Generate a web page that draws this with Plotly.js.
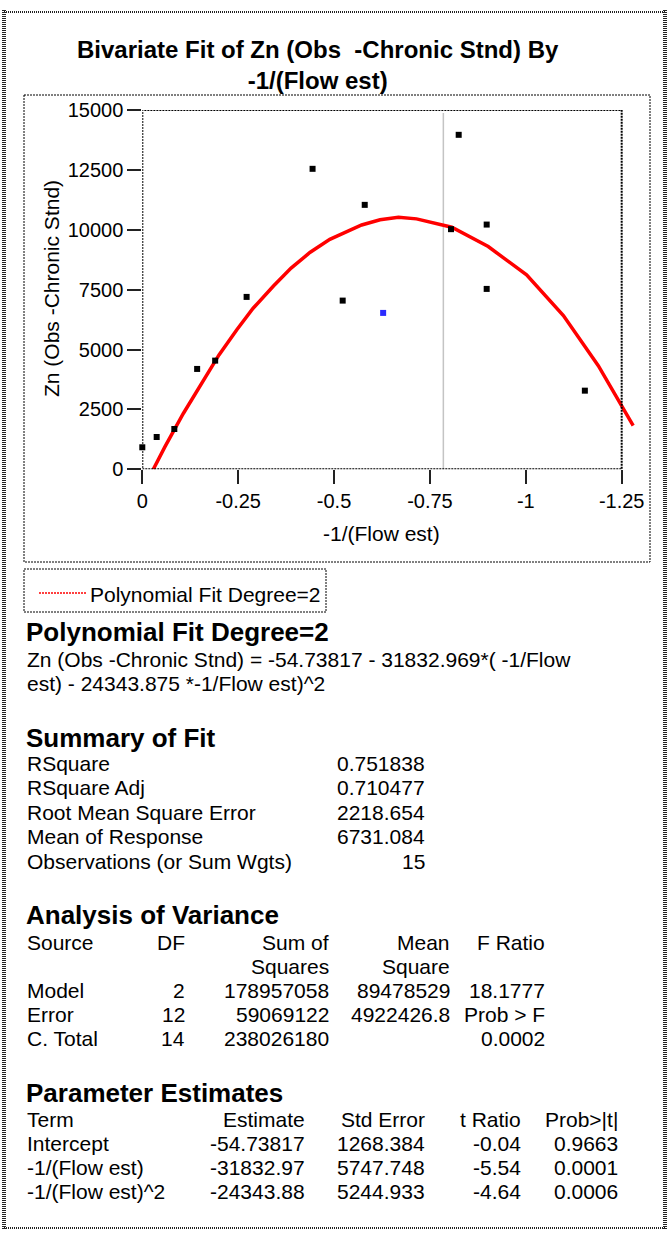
<!DOCTYPE html>
<html>
<head>
<meta charset="utf-8">
<script src="https://cdn.plot.ly/plotly-3.0.1.min.js"></script>
<style>
  html, body { margin: 0; padding: 0; background: #fff; }
  #chart { width: 670px; height: 1236px; }
</style>
</head>
<body>
<div id="chart"></div>
<script>
// ---------------- data ----------------
const obsX = [0, -0.0375, -0.0835, -0.143, -0.190, -0.272, -0.444, -0.5225, -0.580, -0.628, -0.805, -0.825, -0.898, -0.898, -1.154];
const obsY = [919, 1349, 1683, 4190, 4537, 7197, 12544, 7043, 11040, 6529, 10025, 13964, 10217, 7531, 3283];
const obsColor = ['#000000','#000000','#000000','#000000','#000000','#000000','#000000','#000000','#000000','#2b2bff','#000000','#000000','#000000','#000000','#000000'];

const fitX = [-0.0287, -0.0592, -0.107, -0.155, -0.200, -0.246, -0.289, -0.342, -0.388, -0.437, -0.489, -0.572, -0.620, -0.668, -0.715, -0.807, -0.902, -1.002, -1.098, -1.189, -1.280];
const fitY = [0, 944, 2330, 3617, 4774, 5819, 6724, 7650, 8400, 9050, 9600, 10200, 10420, 10526, 10455, 10108, 9298, 8116, 6416, 4327, 1821];

const refLineX = -0.785;

const xTickVals = [0, -0.25, -0.5, -0.75, -1, -1.25];
const xTickText = ['0', '-0.25', '-0.5', '-0.75', '-1', '-1.25'];
const yTickVals = [0, 2500, 5000, 7500, 10000, 12500, 15000];
const yTickText = ['0', '2500', '5000', '7500', '10000', '12500', '15000'];

const titleLines = ['Bivariate Fit of Zn (Obs \u00a0-Chronic Stnd) By', '-1/(Flow est)'];
const xTitle = '-1/(Flow est)';
const yTitle = 'Zn (Obs -Chronic Stnd)';
const legendLabel = 'Polynomial Fit Degree=2';

const fitHeader = 'Polynomial Fit Degree=2';
const fitEquation = ['Zn (Obs -Chronic Stnd) = -54.73817 - 31832.969*( -1/Flow', 'est) - 24343.875 *-1/Flow est)^2'];

const summaryHeader = 'Summary of Fit';
const summaryLabels = ['RSquare', 'RSquare Adj', 'Root Mean Square Error', 'Mean of Response', 'Observations (or Sum Wgts)'];
const summaryValues = ['0.751838', '0.710477', '2218.654', '6731.084', '15'];

const anovaHeader = 'Analysis of Variance';
const anovaColHead1 = ['Source', 'DF', 'Sum of', 'Mean', 'F Ratio'];
const anovaColHead2 = ['', '', 'Squares', 'Square', ''];
const anovaSource = ['Model', 'Error', 'C. Total'];
const anovaDF = ['2', '12', '14'];
const anovaSS = ['178957058', '59069122', '238026180'];
const anovaMS = ['89478529', '4922426.8', ''];
const anovaF = ['18.1777', 'Prob > F', '0.0002'];

const paramHeader = 'Parameter Estimates';
const paramColHead = ['Term', 'Estimate', 'Std Error', 't Ratio', 'Prob>|t|'];
const paramTerm = ['Intercept', '-1/(Flow est)', '-1/(Flow est)^2'];
const paramEst = ['-54.73817', '-31832.97', '-24343.88'];
const paramSE = ['1268.384', '5747.748', '5244.933'];
const paramT = ['-0.04', '-5.54', '-4.64'];
const paramP = ['0.9663', '0.0001', '0.0006'];

// ---------------- layout helpers ----------------
const W = 670, H = 1236;
const FONT = 'Liberation Sans, Arial, Helvetica, sans-serif';
const REG = 21, BOLD = 26;
const px = v => v / W;
const py = v => 1 - v / H;

const annotations = [];
function txt(text, x, y, anchor, size, bold, extra) {
  const a = {
    text: bold ? '<b>' + text + '</b>' : text,
    x: px(x), y: py(y), xref: 'paper', yref: 'paper',
    xanchor: anchor || 'left', yanchor: 'middle',
    showarrow: false,
    font: { family: FONT, size: size || REG, color: '#000' }
  };
  if (extra) Object.assign(a, extra);
  annotations.push(a);
}

// titles (one two-line text)
txt('<b>' + titleLines[0] + '<br>' + titleLines[1] + '</b>', 318, 65, 'center', 24, false, { align: 'center' });
txt(xTitle, 381, 533, 'center', REG, false);
txt(yTitle, 52, 289, 'center', REG, false, { textangle: -90 });

// legend
txt(legendLabel, 88, 594, 'left', REG, false);

// polynomial section
txt(fitHeader, 24, 632, 'left', BOLD, true);
fitEquation.forEach((t, i) => txt(t, 25, 659 + i * 24, 'left', REG, false));

// summary
txt(summaryHeader, 24, 738, 'left', BOLD, true);
summaryLabels.forEach((t, i) => {
  const y = 763 + i * 24.5;
  txt(t, 25, y, 'left', REG, false);
  txt(summaryValues[i], 427, y, 'right', REG, false);
});

// ANOVA
txt(anovaHeader, 24, 915, 'left', BOLD, true);
const anovaRight = [null, 187, 331, 452, 547];
anovaColHead1.forEach((t, j) => {
  if (j === 0) txt(t, 25, 942, 'left'); else txt(t, anovaRight[j], 942, 'right');
});
anovaColHead2.forEach((t, j) => { if (t) txt(t, anovaRight[j], 966, 'right'); });
anovaSource.forEach((s, i) => {
  const y = 990 + i * 24;
  txt(s, 25, y, 'left');
  txt(anovaDF[i], anovaRight[1], y, 'right');
  txt(anovaSS[i], anovaRight[2], y, 'right');
  if (anovaMS[i]) txt(anovaMS[i], anovaRight[3], y, 'right');
  txt(anovaF[i], anovaRight[4], y, 'right');
});

// parameter estimates
txt(paramHeader, 24, 1093, 'left', BOLD, true);
const paramRight = [null, 307, 427, 523, 620];
paramColHead.forEach((t, j) => {
  if (j === 0) txt(t, 25, 1119, 'left'); else txt(t, paramRight[j], 1119, 'right');
});
paramTerm.forEach((t, i) => {
  const y = 1143 + i * 24.3;
  txt(t, 25, y, 'left');
  txt(paramEst[i], paramRight[1], y, 'right');
  txt(paramSE[i], paramRight[2], y, 'right');
  txt(paramT[i], paramRight[3], y, 'right');
  txt(paramP[i], paramRight[4], y, 'right');
});

// ---------------- shapes ----------------
const shapes = [];
function pline(x0, y0, x1, y1, color, width, dash) {
  shapes.push({ type: 'line', xref: 'paper', yref: 'paper',
    x0: px(x0), y0: py(y0), x1: px(x1), y1: py(y1),
    line: { color: color, width: width, dash: dash || 'solid' } });
}
function prect(x0, y0, x1, y1, color, width, dash) {
  shapes.push({ type: 'rect', xref: 'paper', yref: 'paper',
    x0: px(x0), y0: py(y0), x1: px(x1), y1: py(y1),
    line: { color: color, width: width, dash: dash || 'solid' } });
}
// outer border
pline(4, 10, 4, 1230, '#222', 4, '1px,1px');
pline(665, 10, 665, 1230, '#222', 4, '1px,1px');
pline(4, 12, 665, 12, '#222', 2, '1px,1px');
pline(4, 1228, 665, 1228, '#222', 2, '1px,1px');
// chart box & legend box
prect(24, 95, 650, 562, '#000', 1, '2px,1px');
prect(24, 569, 326, 612, '#000', 1, '2px,1px');
pline(39, 593, 87, 593, '#ff0000', 1.5, '2px,1px');

// plot frame in data coordinates
shapes.push({ type: 'line', xref: 'x', yref: 'y', x0: refLineX, x1: refLineX, y0: 0, y1: 14870,
  line: { color: '#c4c4c4', width: 1.5 }, layer: 'below' });
shapes.push({ type: 'rect', xref: 'x', yref: 'y', x0: 0, x1: xTickVals[5], y0: 0, y1: yTickVals[6],
  line: { color: '#000', width: 2, dash: '2px,1px' } });

// ---------------- axes ----------------
const xLeftPx = 142.3, pxPerUnit = 383.5, xMin = -1.30;
const xDomain = [px(xLeftPx), px(xLeftPx + Math.abs(xMin) * pxPerUnit)];
const yDomain = [py(469.3), py(110)];

const traces = [
  { x: fitX, y: fitY, type: 'scatter', mode: 'lines', name: legendLabel,
    line: { color: '#ff0000', width: 3.5 }, showlegend: false, hoverinfo: 'skip' },
  { x: obsX, y: obsY, type: 'scatter', mode: 'markers', name: 'Observations',
    marker: { symbol: 'square', size: 6, color: obsColor, line: { width: 0 } },
    cliponaxis: false, showlegend: false }
];

const layout = {
  width: W, height: H,
  margin: { l: 0, r: 0, t: 0, b: 0, pad: 0 },
  paper_bgcolor: '#fff', plot_bgcolor: 'rgba(0,0,0,0)',
  showlegend: false,
  xaxis: {
    domain: xDomain, range: [0, xMin], fixedrange: true,
    showgrid: false, zeroline: false, showline: false,
    tickmode: 'array', tickvals: xTickVals, ticktext: xTickText,
    ticks: 'outside', ticklen: 14, tickwidth: 2, tickcolor: '#222',
    tickfont: { family: FONT, size: 20, color: '#000' }
  },
  yaxis: {
    domain: yDomain, range: [0, 15000], fixedrange: true,
    showgrid: false, zeroline: false, showline: false,
    tickmode: 'array', tickvals: yTickVals, ticktext: yTickText,
    ticks: 'outside', ticklen: 14, tickwidth: 2, tickcolor: '#222',
    tickfont: { family: FONT, size: 20, color: '#000' }
  },
  shapes: shapes,
  annotations: annotations
};

Plotly.newPlot('chart', traces, layout, { staticPlot: true, displayModeBar: false });
</script>
</body>
</html>
